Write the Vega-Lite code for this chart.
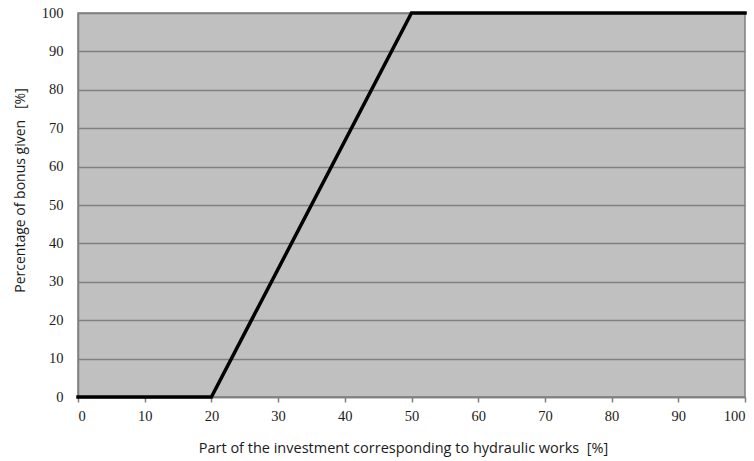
{
  "$schema": "https://vega.github.io/schema/vega-lite/v6.json",
  "width": 667,
  "height": 384,
  "autosize": {"type": "none"},
  "padding": {"left": 78, "top": 13, "right": 9, "bottom": 64},
  "background": "white",
  "config": {
    "view": {"fill": "#c0c0c0", "stroke": "#7f7f7f", "strokeWidth": 1.5}
  },
  "data": {"values": [
    {"x": 0, "y": 0},
    {"x": 20, "y": 0},
    {"x": 50, "y": 100},
    {"x": 100, "y": 100}
  ]},
  "mark": {"type": "line", "color": "black", "strokeWidth": 3.5, "strokeCap": "square"},
  "encoding": {
    "x": {
      "field": "x", "type": "quantitative",
      "scale": {"domain": [0, 100], "nice": false, "zero": false},
      "axis": {
        "values": [0,10,20,30,40,50,60,70,80,90,100],
        "grid": false,
        "domainColor": "#7f7f7f", "domainWidth": 1.5,
        "tickColor": "#7f7f7f", "tickSize": 5, "tickWidth": 1.5,
        "labelFont": "Liberation Serif", "labelFontSize": 14.5, "labelColor": "#1a1a1a",
        "labelPadding": 7,
        "title": "Part of the investment corresponding to hydraulic works\u00a0 [%]",
        "titleFont": "Open Sans", "titleFontSize": 14.5, "titleFontWeight": "normal", "titleColor": "#1a1a1a",
        "titlePadding": 19,
        "titleX": 325
      }
    },
    "y": {
      "field": "y", "type": "quantitative",
      "scale": {"domain": [0, 100], "nice": false},
      "axis": {
        "values": [0,10,20,30,40,50,60,70,80,90,100],
        "grid": true, "gridColor": "#7f7f7f", "gridWidth": 1.5, "gridOpacity": 1,
        "domainColor": "#7f7f7f", "domainWidth": 1.5,
        "ticks": false,
        "labelFont": "Liberation Serif", "labelFontSize": 14.5, "labelColor": "#1a1a1a",
        "labelPadding": 15,
        "title": "Percentage of bonus given\u00a0\u00a0 [%]",
        "titleFont": "Open Sans", "titleFontSize": 14, "titleFontWeight": "normal", "titleColor": "#1a1a1a",
        "titlePadding": 14,
        "titleY": 177
      }
    }
  }
}
